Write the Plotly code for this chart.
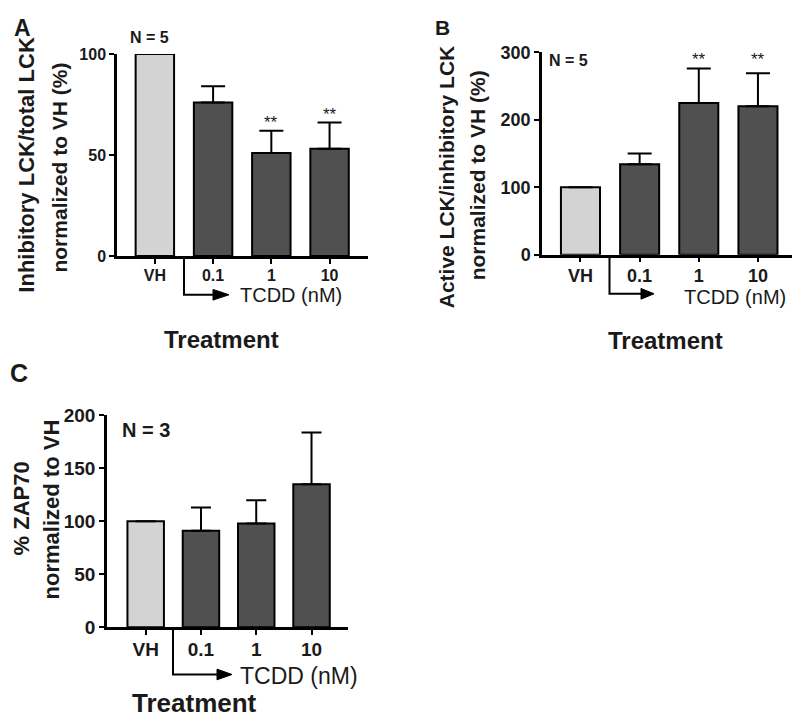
import plotly.graph_objects as go

W, H = 800, 727
OFF = 8  # the page body margin shifts the figure by this much

categories = ["VH", "0.1", "1", "10"]

# panel A: inhibitory LCK / total LCK
a_mean = [100, 76, 51, 53]
a_err = [None, 8, 11, 13]
a_sig = ["", "", "**", "**"]

# panel B: active LCK / inhibitory LCK
b_mean = [100, 134, 225, 220]
b_err = [None, 16, 51, 49]
b_sig = ["", "", "**", "**"]

# panel C: ZAP70
c_mean = [100, 91, 98, 135]
c_err = [None, 22, 22, 49]

FONT = "Liberation Sans, Arial, sans-serif"
TXT = "#1a1a1a"
bar_colors = ["#d3d3d3", "#505050", "#505050", "#505050"]


def px(x):
    return (x - OFF) / W


def py(y):
    return 1 - (y - OFF) / H


def bar_trace(mean, err, xa, ya, cap):
    return go.Bar(
        x=categories, y=mean, xaxis=xa, yaxis=ya, width=0.66,
        marker=dict(color=bar_colors, line=dict(color="black", width=2)),
        error_y=dict(type="data", symmetric=False, array=err,
                     arrayminus=[0] * len(mean), color="black",
                     thickness=2, width=cap),
        showlegend=False, hoverinfo="skip",
    )


fig = go.Figure()
fig.add_trace(bar_trace(a_mean, a_err, "x", "y", 12))
fig.add_trace(bar_trace(b_mean, b_err, "x2", "y2", 12))
fig.add_trace(bar_trace(c_mean, c_err, "x3", "y3", 10))


def xaxis(domain, rng, size, anchor):
    return dict(domain=domain, type="category", range=rng, showline=True,
                linecolor="black", linewidth=2.5, ticks="outside", ticklen=5,
                tickwidth=2, tickcolor="black", showgrid=False, zeroline=False,
                ticklabelstandoff=-2, anchor=anchor,
                tickfont=dict(family=FONT, size=size, color=TXT, weight="bold"))


def yaxis(domain, rng, dtick, size, anchor):
    return dict(domain=domain, range=rng, dtick=dtick, showline=True,
                linecolor="black", linewidth=2.5, ticks="outside", ticklen=5,
                tickwidth=2, tickcolor="black", showgrid=False, zeroline=False,
                anchor=anchor,
                tickfont=dict(family=FONT, size=size, color=TXT, weight="bold"))


fig.update_layout(
    width=W, height=H, margin=dict(l=0, r=0, t=0, b=0),
    plot_bgcolor="white", paper_bgcolor="white",
    xaxis=xaxis([px(117), px(368)], [-0.65, 3.66], 16, "y"),
    xaxis2=xaxis([px(542), px(797)], [-0.65, 3.66], 18, "y2"),
    xaxis3=xaxis([px(107), px(348)], [-0.70, 3.66], 19, "y3"),
    yaxis=yaxis([py(253), py(45)], [0, 100], 50, 16, "x"),
    yaxis2=yaxis([py(251.7), py(43.3)], [0, 300], 100, 18, "x2"),
    yaxis3=yaxis([py(635.3), py(417.3)], [0, 200], 50, 19, "x3"),
    font=dict(family=FONT, color=TXT),
)


def label(x, y, text, size, bold=True, angle=0):
    t = "<b>" + text + "</b>" if bold else text
    fig.add_annotation(x=px(x), y=py(y), xref="paper", yref="paper",
                       text=t, showarrow=False, textangle=angle,
                       xanchor="center", yanchor="middle",
                       font=dict(family=FONT, size=size, color=TXT))


# panel letters
label(22, 18, "A", 23)
label(442, 18, "B", 21)
label(19, 374, "C", 25)

# N labels
label(149, 28, "N = 5", 16)
label(568, 52, "N = 5", 16)
label(146, 432, "N = 3", 20)

# y titles
label(27, 159, "Inhibitory LCK/total LCK", 22, angle=-90)
label(60, 162, "normalized to VH (%)", 21, angle=-90)
label(446, 172, "Active LCK/inhibitory LCK", 21, angle=-90)
label(477, 170, "normalized to VH (%)", 21, angle=-90)
label(21, 513, "% ZAP70", 22, angle=-90)
label(51, 514, "normalized to VH", 22, angle=-90)

# x titles
label(291, 293, "TCDD (nM)", 20, bold=False)
label(735, 295, "TCDD (nM)", 20, bold=False)
label(299, 686, "TCDD (nM)", 23, bold=False)
label(221, 339, "Treatment", 24)
label(665, 340, "Treatment", 24)
label(194, 713, "Treatment", 26)


# treatment arrows
def arrow(x0, y0, y1, x1, tip):
    path = "M {} {} L {} {} L {} {}".format(px(x0), py(y0), px(x0), py(y1), px(x1), py(y1))
    fig.add_shape(type="path", path=path, xref="paper", yref="paper",
                  line=dict(color="black", width=2))
    tri = "M {} {} L {} {} L {} {} Z".format(px(x1 - 2), py(y1 - 5.5), px(tip), py(y1),
                                              px(x1 - 2), py(y1 + 5.5))
    fig.add_shape(type="path", path=tri, xref="paper", yref="paper",
                  fillcolor="black", line=dict(color="black", width=1))


arrow(184, 253, 293, 215, 229)
arrow(609.5, 252, 292, 643, 654)
arrow(173, 636, 684, 219, 232)

# significance marks
for i, s in enumerate(a_sig):
    if s:
        fig.add_annotation(x=i, y=a_mean[i] + a_err[i], xref="x", yref="y",
                           text=s, showarrow=False, yanchor="bottom", yshift=-3,
                           font=dict(family=FONT, size=17, color=TXT))
b_top = max(m + e for m, e in zip(b_mean, b_err) if e is not None)
for i, s in enumerate(b_sig):
    if s:
        fig.add_annotation(x=i, y=b_top, xref="x2", yref="y2",
                           text=s, showarrow=False, yanchor="bottom", yshift=-3,
                           font=dict(family=FONT, size=17, color=TXT))

fig.write_html("out.html")
